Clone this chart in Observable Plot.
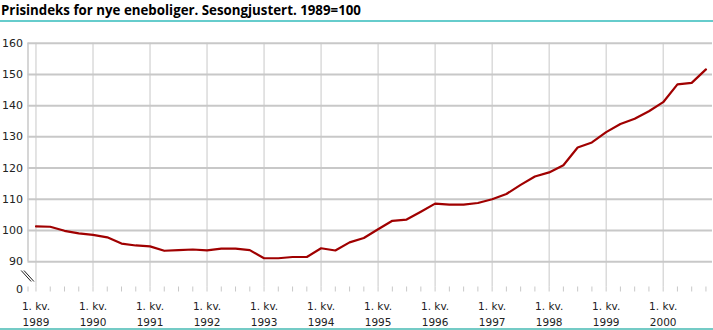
<!DOCTYPE html>
<html>
<head>
<meta charset="utf-8">
<script src="https://cdn.jsdelivr.net/npm/d3@7"></script>
<script src="https://cdn.jsdelivr.net/npm/@observablehq/plot@0.6"></script>
<style>
  html, body { margin: 0; padding: 0; background: #fff; }
  #wrap { position: relative; width: 713px; height: 330px; overflow: hidden; }
  #title { position: absolute; left: 1px; top: 1px; font: bold 13.3px "Open Sans", "DejaVu Sans", sans-serif; color: #000; white-space: nowrap; }
  #topline { position: absolute; left: 0; top: 20px; width: 713px; height: 2px; background: #66cccc; }
  #botline { position: absolute; left: 0; top: 328px; width: 713px; height: 2px; background: #74cbc6; }
  #chart { position: absolute; left: 0; top: 0; }
</style>
</head>
<body>
<div id="wrap">
  <div id="chart"></div>
  <div id="title">Prisindeks for nye eneboliger. Sesongjustert. 1989=100</div>
  <div id="topline"></div>
  <div id="botline"></div>
</div>
<script>
// Quarterly index, 1. kv. 1989 – 4. kv. 2000 (1989=100)
const values = [
  101.3, 101.2, 99.9, 99.1,
  98.6, 97.8, 95.8, 95.2,
  94.9, 93.5, 93.7, 93.9,
  93.6, 94.2, 94.2, 93.7,
  91.1, 91.1, 91.5, 91.5,
  94.3, 93.6, 96.2, 97.6,
  100.4, 103.1, 103.5, 106.0,
  108.6, 108.3, 108.3, 108.8,
  110.0, 111.7, 114.6, 117.3,
  118.6, 120.9, 126.6, 128.2,
  131.5, 134.1, 135.8, 138.2,
  141.1, 146.8, 147.3, 151.6
];
const years = [1989, 1990, 1991, 1992, 1993, 1994, 1995, 1996, 1997, 1998, 1999, 2000];
const quarterLabel = "1. kv.";
const yTicks = [0, 90, 100, 110, 120, 130, 140, 150, 160];
const yGrid = [90, 100, 110, 120, 130, 140, 150, 160];
const yBreak = [0, 90, 160];

const data = values.map((v, i) => ({q: i, v}));
const q1 = years.map((y, i) => ({q: i * 4, year: y}));
const allQuarters = values.map((v, i) => i);
const xDomain = [-0.56, 47.46];
const breakMark = [{x1: -0.94, x2: -0.24, y1: 61.5, y2: 25.9}];

const font = "DejaVu Sans, Verdana, sans-serif";
const grid = "#c8c8c8";

const chart = Plot.plot({
  width: 713,
  height: 330,
  marginLeft: 27.5,
  marginRight: 1,
  marginTop: 42.7,
  marginBottom: 43.5,
  style: {fontFamily: font, fontSize: "11px", color: "#222", background: "transparent"},
  x: {type: "linear", domain: xDomain, axis: null},
  y: {type: "linear", domain: yBreak, range: [289, 261.2, 42.7], axis: null},
  marks: [
    Plot.ruleX(q1, {x: "q", stroke: grid, strokeWidth: 1}),
    Plot.ruleY(yGrid, {stroke: grid, strokeWidth: 2}),
    Plot.ruleX([xDomain[0]], {y1: 89.5, y2: 160, stroke: grid, strokeWidth: 1.5}),
    Plot.axisX([xDomain[0], ...allQuarters], {tickSize: 5, tickFormat: () => "", stroke: grid, strokeWidth: 1, label: null}),
    Plot.link(breakMark, {x1: "x1", x2: "x2", y1: "y1", y2: "y2", stroke: "#222", strokeWidth: 1, dx: -1.4}),
    Plot.link(breakMark, {x1: "x1", x2: "x2", y1: "y1", y2: "y2", stroke: "#222", strokeWidth: 1, dx: 1.4}),
    Plot.line(data, {x: "q", y: "v", stroke: "#a00000", strokeWidth: 2.2, strokeLinejoin: "round"}),
    Plot.axisY(yTicks, {tickSize: 0, tickPadding: 5, fontSize: 11, fill: "#222", label: null}),
    Plot.text(q1, {x: "q", text: d => quarterLabel + "\n" + d.year, frameAnchor: "bottom", lineAnchor: "top", dy: 12, lineHeight: 1.5, fontSize: 10.5, fill: "#222"})
  ]
});
document.getElementById("chart").appendChild(chart);
</script>
</body>
</html>
